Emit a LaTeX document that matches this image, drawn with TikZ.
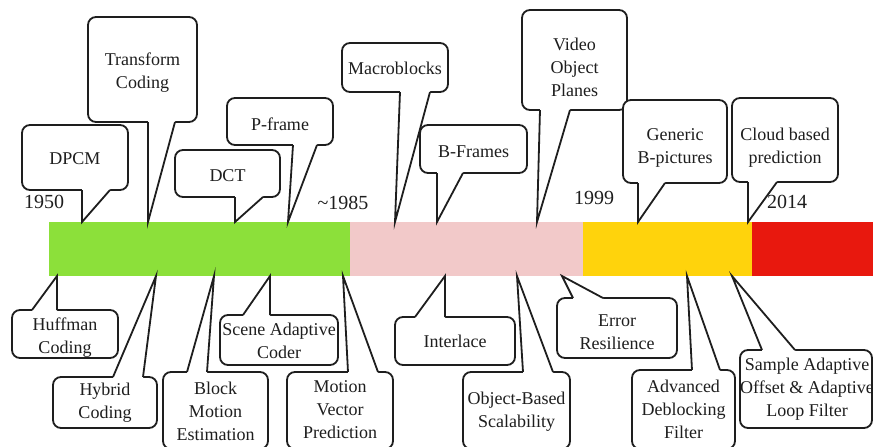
\documentclass[tikz,border=0pt]{standalone}
\usepackage{fontspec}
\setmainfont{Liberation Serif}
\newfontfamily\timesfont{Liberation Serif}
\usetikzlibrary{calc}
\definecolor{ink}{RGB}{30,30,30}
\definecolor{barGreen}{RGB}{140,224,58}
\definecolor{barPink}{RGB}{242,201,201}
\definecolor{barYellow}{RGB}{255,211,12}
\definecolor{barRed}{RGB}{232,24,14}
% name, x, y, w, h, text xshift, text down-shift, text
\newcommand\callout[8]{%
  \node[cbox, minimum width=#4pt, minimum height=#5pt] (#1) at (#2,#3) {};
  \node[ctext] (#1t) at ([xshift=#6pt, yshift=-#7pt]#1.center) {#8};}
% tail pointing down from a box above the bar: name, dx1, dx2, tip
\newcommand\tailtop[4]{%
  \coordinate (#1tip) at (#4);
  \fill[white] ($(#1.south)+(#2,-2.2)$) -- ($(#1.south)+(#2,0)$) -- (#1tip)
     -- ($(#1.south)+(#3,0)$) -- ($(#1.south)+(#3,-2.2)$) -- cycle;
  \draw[tailline] ($(#1.south)+(#2,0)$) -- (#1tip) -- ($(#1.south)+(#3,0)$);}
% tail pointing up from a box below the bar
\newcommand\tailbot[4]{%
  \coordinate (#1tip) at (#4);
  \fill[white] ($(#1.north)+(#2,2.2)$) -- ($(#1.north)+(#2,0)$) -- (#1tip)
     -- ($(#1.north)+(#3,0)$) -- ($(#1.north)+(#3,2.2)$) -- cycle;
  \draw[tailline] ($(#1.north)+(#2,0)$) -- (#1tip) -- ($(#1.north)+(#3,0)$);}
\begin{document}
\begin{tikzpicture}[x=1pt,y=-1pt,
  cbox/.style={draw=ink, fill=white, line width=1.8pt, rounded corners=8pt,
    inner sep=0pt, outer sep=0pt},
  ctext/.style={text=ink, align=center, inner sep=0pt,
    font=\timesfont\fontsize{18}{23}\selectfont},
  tailline/.style={draw=ink, line width=1.8pt, line join=miter},
  year/.style={text=ink, inner sep=0pt, font=\timesfont\fontsize{20}{22}\selectfont}]
\useasboundingbox (0,0) rectangle (873,447);
\clip (0,0) rectangle (873,447);
\fill[white] (0,0) rectangle (873,447);
% timeline bar
\fill[barGreen]  (49,222)  rectangle (350,276);
\fill[barPink]   (350,222) rectangle (583,276);
\fill[barYellow] (583,222) rectangle (752,276);
\fill[barRed]    (752,222) rectangle (873,276);
% top callouts
\callout{dpcm}{75}{157.5}{106}{65}{0}{1.5}{DPCM}
\tailtop{dpcm}{7}{35}{82,222}
\callout{transform}{142.5}{69.5}{109}{105}{0}{3.5}{Transform\\Coding}
\tailtop{transform}{5.5}{32.5}{148,222}
\callout{dct}{227.5}{173.5}{105}{47}{0}{2.5}{DCT}
\tailtop{dct}{7.5}{35.5}{235,222}
\callout{pframe}{280}{121.5}{106}{47}{0}{3}{P-frame}
\tailtop{pframe}{13}{37}{288,222}
\callout{bframes}{473.5}{149}{107}{48}{0}{2.5}{B-Frames}
\tailtop{bframes}{-36.5}{-10.5}{437,222}
\callout{macro}{395}{67.5}{106}{49}{0}{1}{Macroblocks}
\tailtop{macro}{5}{35}{395,222}
\callout{vop}{574.5}{60}{105}{100}{0}{7.5}{Video\\Object\\Planes}
\tailtop{vop}{-34.5}{-4.5}{537,222}
\callout{generic}{675}{141.5}{104}{83}{0}{6.5}{Generic\\B-pictures}
\tailtop{generic}{-37}{-10}{638,222}
\callout{cloud}{785}{140}{106}{84}{0}{7.5}{Cloud based\\prediction}
\tailtop{cloud}{-37}{-8}{748,222}
% bottom callouts
\callout{huffman}{65}{334}{106}{48}{0}{3.5}{Huffman\\Coding}
\tailbot{huffman}{-33}{-8}{57,276}
\callout{hybrid}{105}{402.5}{104}{51}{0}{0}{Hybrid\\Coding}
\tailbot{hybrid}{8}{38}{156,276}
\callout{block}{215.5}{410.5}{105}{77}{0}{0.5}{Block\\Motion\\Estimation}
\tailbot{block}{-28.5}{-8.5}{214,276}
\callout{scene}{279}{340}{118}{50}{0}{1}{Scene Adaptive\\Coder}
\tailbot{scene}{-36}{-9}{270,276}
\callout{mv}{340}{410.5}{106}{77}{0}{-1}{Motion\\Vector\\Prediction}
\tailbot{mv}{8}{38}{343,276}
\callout{interlace}{455}{341}{120}{48}{0}{0}{Interlace}
\tailbot{interlace}{-40}{-10}{445,276}
\callout{objbased}{516.5}{410.5}{107}{77}{0}{1.5}{Object-Based\\Scalability}
\tailbot{objbased}{6.5}{36.5}{517,276}
\callout{error}{617}{328}{120}{60}{0}{4}{Error\\Resilience}
\tailbot{error}{-44}{-14}{562,276}
\callout{advanced}{683.5}{409.5}{103}{79}{0}{0}{Advanced\\Deblocking\\Filter}
\tailbot{advanced}{8.5}{36.5}{687,276}
\callout{sample}{806}{389}{132}{78}{1}{0}{Sample Adaptive\\Offset \& Adaptive\\Loop Filter}
\tailbot{sample}{-44}{-11}{732,276}
% years
\node[year] (y1950) at (44,202) {1950};
\node[year] (y1985) at (343,203) {\textasciitilde1985};
\node[year] (y1999) at (594,198) {1999};
\node[year] (y2014) at (787,202) {2014};
\end{tikzpicture}
\end{document}
